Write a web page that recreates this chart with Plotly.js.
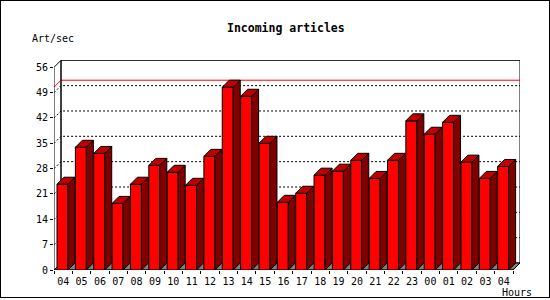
<!DOCTYPE html>
<html>
<head>
<meta charset="utf-8">
<script src="https://cdn.plot.ly/plotly-3.0.1.min.js"></script>
<style>
  html, body { margin: 0; padding: 0; background: #fff; }
  #wrap { position: relative; width: 550px; height: 300px; }
  #chart { position: absolute; left: 0; top: 0; width: 550px; height: 300px; }
  #frame { position: absolute; left: 0; top: 0; width: 548px; height: 296px; border: 1px solid #000; pointer-events: none; }
</style>
</head>
<body>
<div id="wrap"><div id="chart"></div><div id="frame"></div></div>
<script>
// ---- data ----
const hours = ['04','05','06','07','08','09','10','11','12','13','14','15','16','17','18','19','20','21','22','23','00','01','02','03','04'];
const artPerSec = [23.7, 33.9, 32.2, 18.4, 23.7, 28.9, 27.0, 23.4, 31.4, 50.5, 48.0, 35.0, 18.7, 21.2, 26.2, 27.3, 30.3, 25.3, 30.3, 41.2, 37.5, 40.8, 29.8, 25.3, 28.6];
const yTicks = [0, 7, 14, 21, 28, 35, 42, 49, 56];

// ---- geometry (styling) ----
const L = 54, W = 466, T = 60, H = 210;
const pxPerX = 18.36;
const xmin = -0.5, xmax = xmin + W / pxPerX;
const pxPerY = 202.7 / 56;
const ymax = H / pxPerY;
const DEPTH = 7;
const DX = DEPTH / pxPerX, DY = DEPTH / pxPerY;
const barOff = 3 / pxPerX, barW = 11 / pxPerX;
const n = hours.length;
const xFront = n - 0.5;
const yTop = yTicks[yTicks.length - 1];

const fx = [], fy = [], sx = [], sy = [], tx = [], ty = [];
artPerSec.forEach((v, i) => {
  const l = i - 0.5 + barOff, r = l + barW;
  fx.push(l, r, r, l, l, null); fy.push(0, 0, v, v, 0, null);
  sx.push(r, r + DX, r + DX, r, r, null); sy.push(0, DY, v + DY, v, 0, null);
  tx.push(l, r, r + DX, l + DX, l, null); ty.push(v, v, v + DY, v + DY, v, null);
});

const face = (x, y, color) => ({
  type: 'scatter', x, y, mode: 'lines', fill: 'toself', fillcolor: color,
  line: { color: '#000', width: 1 }, hoverinfo: 'skip', showlegend: false
});

const traces = [
  face(fx, fy, '#FF0000'),
  face(sx, sy, '#800000'),
  face(tx, ty, '#C00000'),
  { type: 'scatter', x: [0], y: [0], xaxis: 'x2', yaxis: 'y', mode: 'markers',
    marker: { opacity: 0 }, hoverinfo: 'skip', showlegend: false }
];

const P = (pts) => 'M ' + pts.map(p => p[0] + ' ' + p[1]).join(' L ');
const shapes = [];
// back panel
shapes.push({ type: 'path', layer: 'below', xref: 'x', yref: 'y',
  path: P([[xmin + DX, DY], [xFront + DX, DY], [xFront + DX, yTop + DY], [xmin + DX, yTop + DY]]) + ' Z',
  fillcolor: '#fff', line: { color: '#000', width: 1 } });
// floor
shapes.push({ type: 'path', layer: 'below', xref: 'x', yref: 'y',
  path: P([[xmin, 0], [xFront, 0], [xFront + DX, DY], [xmin + DX, DY]]) + ' Z',
  fillcolor: '#808080', line: { color: '#000', width: 1 } });
// gridlines on left wall and back wall
yTicks.slice(1, -1).forEach(v => {
  shapes.push({ type: 'path', layer: 'below', xref: 'x', yref: 'y',
    path: P([[xmin, v], [xmin + DX, v + DY], [xFront + DX, v + DY]]),
    line: { color: '#000', width: 1, dash: '2px,2px' } });
});
// max line
const maxV = Math.max(...artPerSec);
shapes.push({ type: 'path', layer: 'below', xref: 'x', yref: 'y',
  path: P([[xmin, maxV], [xmin + DX, maxV + DY], [xFront + DX, maxV + DY]]),
  line: { color: '#FF0000', width: 1 } });
// left wall edges and axes
shapes.push({ type: 'path', layer: 'below', xref: 'x', yref: 'y',
  path: P([[xmin, 0], [xmin, yTop], [xmin + DX, yTop + DY]]),
  line: { color: '#000', width: 1 } });
shapes.push({ type: 'path', layer: 'below', xref: 'x', yref: 'y',
  path: P([[xmin + DX, DY], [xmin + DX, yTop + DY]]),
  line: { color: '#000', width: 1 } });
shapes.push({ type: 'path', layer: 'below', xref: 'x', yref: 'y',
  path: P([[xmin, 0], [xFront, 0], [xFront + DX, DY]]),
  line: { color: '#000', width: 1 } });

const font = { family: 'DejaVu Sans Mono, monospace', size: 10, color: '#000' };

const layout = {
  width: 550, height: 300,
  margin: { l: L, r: 550 - L - W, t: T, b: 300 - T - H, pad: 0 },
  paper_bgcolor: '#fff', plot_bgcolor: 'rgba(0,0,0,0)',
  showlegend: false,
  font,
  title: { text: 'Incoming articles', x: 0.4975, xref: 'paper', xanchor: 'center',
    y: 1 - 28 / 300, yref: 'container', yanchor: 'middle',
    font: { family: 'DejaVu Sans Mono, monospace', size: 11.5, color: '#000', weight: 'bold' } },
  xaxis: { range: [xmin, xmax], tickmode: 'array', tickvals: hours.map((h, i) => i), ticktext: hours,
    ticks: '', ticklabelstandoff: 4, showgrid: false, zeroline: false, showline: false, fixedrange: true, tickfont: font },
  xaxis2: { range: [xmin, xmax], overlaying: 'x', anchor: 'y', side: 'bottom', tickmode: 'array',
    tickvals: hours.map((h, i) => i - 0.5).concat([n - 0.5]), showticklabels: false,
    ticks: 'outside', ticklen: 3, tickcolor: '#000', tickwidth: 1,
    showgrid: false, zeroline: false, showline: false },
  yaxis: { range: [0, ymax], tickmode: 'array', tickvals: yTicks, ticks: 'outside', ticklen: 3,
    tickcolor: '#000', tickwidth: 1, showgrid: false, zeroline: false, showline: false, tickfont: font },
  shapes,
  annotations: [
    { text: 'Art/sec', xref: 'paper', yref: 'paper', x: (30 - L) / W, y: (270 - 39) / H,
      xanchor: 'left', yanchor: 'middle', showarrow: false, font },
    { text: 'Hours', xref: 'paper', yref: 'paper', x: (534 - L) / W, y: (270 - 292) / H,
      xanchor: 'right', yanchor: 'middle', showarrow: false, font }
  ]
};

Plotly.newPlot('chart', traces, layout, { staticPlot: true, displayModeBar: false });
</script>
</body>
</html>
